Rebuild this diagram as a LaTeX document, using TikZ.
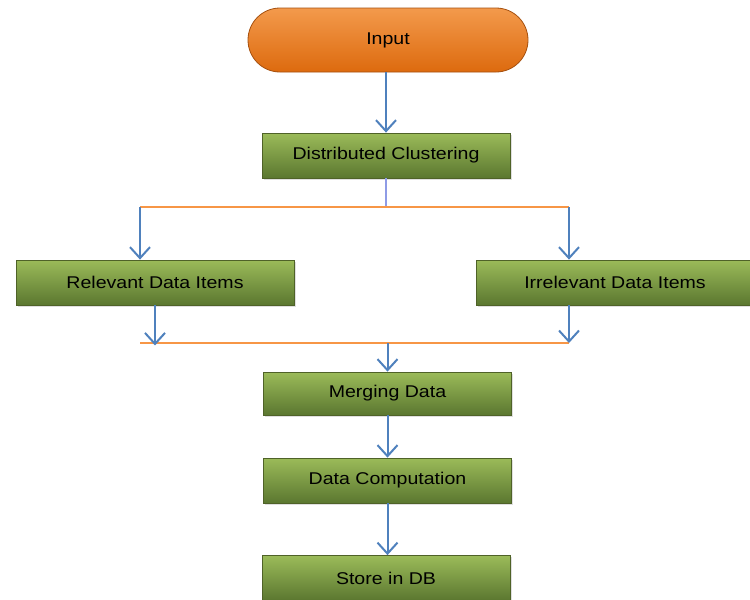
\documentclass[tikz,border=0pt]{standalone}
\usepackage{fontspec}
\setmainfont[FakeStretch=1.15]{Liberation Sans}
\usetikzlibrary{arrows.meta,shadows}

\definecolor{flowblue}{HTML}{4F81BD}
\definecolor{linkorange}{HTML}{F79646}
\definecolor{stemblue}{HTML}{8E9BE6}
\definecolor{boxtop}{HTML}{9BBB59}
\definecolor{boxbot}{HTML}{5B7730}
\definecolor{boxedge}{HTML}{4F6228}
\definecolor{pilltop}{HTML}{F39A4C}
\definecolor{pillbot}{HTML}{DD6A0E}
\definecolor{pilledge}{HTML}{A5500F}

\begin{document}
\begin{tikzpicture}[x=1pt,y=-1pt,
  font=\fontsize{17}{20}\selectfont,
  stepbox/.style={draw=boxedge, line width=0.8pt,
    top color=boxtop, bottom color=boxbot,
    minimum width=248pt, minimum height=45pt, inner sep=0pt,
    drop shadow={shadow xshift=1.5pt, shadow yshift=-1.5pt, opacity=0.25}},
  pill/.style={draw=pilledge, line width=0.8pt,
    top color=pilltop, bottom color=pillbot,
    rounded corners=32pt, minimum width=280pt, minimum height=64pt, inner sep=0pt},
  flowarrow/.style={draw=flowblue, line width=2pt,
    -{Straight Barb[length=11pt,width=20pt]}},
  joinline/.style={draw=linkorange, line width=1.6pt}]

\useasboundingbox (0,0) rectangle (750,600);
\clip (0,0) rectangle (750,600);
\fill[white] (0,0) rectangle (750,600);

% main column
\node[pill]     (input) at (388,40)    {Input};
\node[stepbox]  (dc)    at (386,155.5) {Distributed Clustering};
\node[stepbox, minimum width=278pt] (rel) at (155,282.5) {Relevant Data Items};
\node[stepbox, minimum width=278pt] (irr) at (615,282.5) {Irrelevant Data Items};
\node[stepbox, minimum height=43pt] (merge) at (387.5,393.5) {Merging Data};
\node[stepbox]  (comp)  at (387.5,480.5) {Data Computation};
\node[stepbox]  (store) at (386,578)   {Store in DB};

% split and join points
\coordinate (split) at (386,207);
\coordinate (sl) at (140,207);
\coordinate (sr) at (569,207);
\coordinate (jl) at (140,343);
\coordinate (jr) at (569,343);
\coordinate (jm) at (387.5,343);

\draw[flowarrow] (input.south -| dc.north) -- (dc.north);
\draw[stemblue, line width=1.4pt] (dc.south) -- (split);
\draw[joinline] (sl) -- (sr);
\draw[flowarrow] (sl) -- (sl |- rel.north);
\draw[flowarrow] (sr) -- (sr |- irr.north);

\draw[joinline] (jl) -- (jr);
\draw[flowarrow] (rel.south) -- ++(0,40);
\draw[flowarrow] (jr |- irr.south) -- (jr);
\draw[flowarrow] (jm) -- (merge.north);

\draw[flowarrow] (merge.south) -- (comp.north);
\draw[flowarrow] (comp.south) -- (comp.south |- store.north);
\end{tikzpicture}
\end{document}
